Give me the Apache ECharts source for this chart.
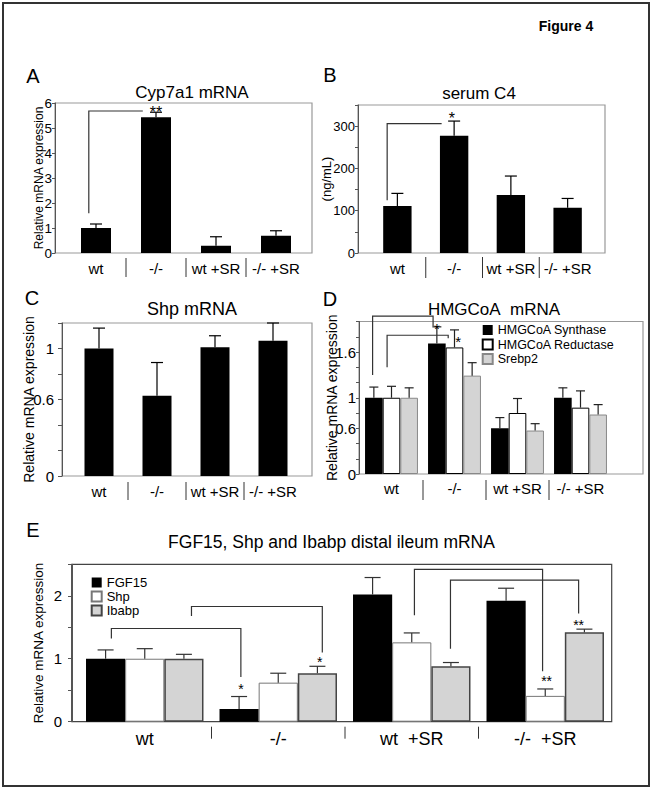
<!DOCTYPE html>
<html><head><meta charset="utf-8">
<script src="https://cdn.jsdelivr.net/npm/echarts@6/dist/echarts.min.js"></script>
<style>html,body{margin:0;padding:0;background:#fff}#c{width:656px;height:790px}</style>
</head><body><div id="c"></div>
<script>
const FONT = "'Liberation Sans', Arial, Helvetica, sans-serif";

// ---------- categories ----------
const groups = ['wt', '-/-', 'wt +SR', '-/- +SR'];
const groupsE = ['wt', '-/-', 'wt\u00a0 +SR', '-/-\u00a0 +SR'];

// ---------- A: Cyp7a1 mRNA ----------
const cyp7a1 = [1.0, 5.43, 0.29, 0.69];
const cyp7a1Err = [0.16, 0.20, 0.36, 0.20];
const cypTickLabels = [0, 1, 2, 3, 4, 5, 6];

// ---------- B: serum C4 (ng/mL) ----------
const serumC4 = [111, 277, 137, 107];
const serumC4Err = [30, 35, 45, 22];
const c4TickLabels = [0, 100, 200, 300];

// ---------- C: Shp mRNA (liver) ----------
const shpLiver = [1.0, 0.63, 1.01, 1.06];
const shpLiverErr = [0.16, 0.26, 0.09, 0.14];
const shpTickLabels = [0, 0.6, 1];

// ---------- D: HMGCoA mRNA ----------
const hmgNames = ['HMGCoA Synthase', 'HMGCoA Reductase', 'Srebp2'];
const hmgSynthase = [1.0, 1.71, 0.60, 1.00];
const hmgSynthaseErr = [0.14, 0.22, 0.14, 0.13];
const hmgReductase = [1.0, 1.66, 0.80, 0.87];
const hmgReductaseErr = [0.15, 0.23, 0.19, 0.22];
const srebp2 = [1.0, 1.29, 0.57, 0.78];
const srebp2Err = [0.13, 0.17, 0.09, 0.13];
const hmgTickLabels = [0, 0.6, 1, 1.6];

// ---------- E: distal ileum ----------
const ileumNames = ['FGF15', 'Shp', 'Ibabp'];
const fgf15 = [1.0, 0.20, 2.02, 1.92];
const fgf15Err = [0.14, 0.20, 0.27, 0.20];
const shpIleum = [1.0, 0.62, 1.26, 0.41];
const shpIleumErr = [0.16, 0.15, 0.15, 0.11];
const ibabp = [1.0, 0.77, 0.88, 1.42];
const ibabpErr = [0.07, 0.11, 0.06, 0.05];
const ileumTickLabels = [0, 1, 2];

// ---------- significance brackets (category units, data values) ----------
// [fromPos, toPos, leftFoot, rightFoot (null = none), top]
const bracketsA = [[-0.12, 0.78, 1.59, null, 5.68]];
const starsA = [[1.0, 5.8, '**']];
const bracketsB = [[-0.18, 0.78, 125, null, 306]];
const starsB = [[0.96, 330, '*']];
const bracketsD = [[-0.30, 0.66, 1.30, 1.94, 2.07], [-0.07, 0.90, 1.40, 1.78, 1.82]];
const starsD = [[0.72, 1.97, '*'], [1.06, 1.80, '*']];
const bracketsE = [[-0.25, 0.72, 1.32, 0.71, 1.48], [0.35, 1.33, 1.68, 1.10, 1.83],
                   [2.02, 2.98, 1.69, 0.80, 2.42], [2.29, 3.25, 1.16, 1.72, 2.25]];
const starsE = [[0.72, 0.58, '*'], [1.31, 1.01, '*'], [3.01, 0.71, '**'], [3.25, 1.61, '**']];

// ---------- helpers ----------
function only(list) {
  return v => list.some(t => Math.abs(t - v) < 1e-6) ? String(Math.round(v * 100) / 100) : '';
}
function posPx(api, pos) {
  const band = api.size([1, 0])[0];
  const idx = Math.max(0, Math.round(pos));
  return api.coord([idx, 0])[0] + (pos - idx) * band;
}
function xAx(gi, data, fs, margin) {
  return {type: 'category', gridIndex: gi, data: data,
    axisLine: {show: false}, axisTick: {show: false}, splitLine: {show: false},
    axisLabel: {interval: 0, color: '#000', fontSize: fs, margin: margin, fontFamily: FONT}};
}
function yAx(gi, o) {
  return {type: 'value', gridIndex: gi, position: 'left', min: 0, max: o.max, interval: o.interval,
    offset: o.offset, name: o.name, nameLocation: 'middle', nameGap: o.nameGap, nameMoveOverlap: false,
    nameTextStyle: {color: '#000', fontSize: o.nameSize, fontFamily: FONT},
    splitLine: {show: false},
    axisLine: {show: true, lineStyle: {color: '#555', width: 1}},
    axisTick: {show: true, length: o.tick, lineStyle: {color: '#555'}},
    axisLabel: {color: '#000', fontSize: o.labelSize, margin: o.margin, fontFamily: FONT,
      formatter: only(o.labels), showMaxLabel: true}};
}
function barSeries(gi, name, data, color, border, bw, gap) {
  return {type: 'bar', name: name, xAxisIndex: gi, yAxisIndex: gi, data: data, silent: true,
    barGap: '0%', barCategoryGap: gap,
    itemStyle: {color: color, borderColor: border, borderWidth: bw}};
}
function errorSeries(gi, vals, errs, sIdx, nS, gap, capW, color) {
  return {type: 'custom', xAxisIndex: gi, yAxisIndex: gi, silent: true, clip: false, z: 3,
    data: vals.map((v, i) => [i, v, v + errs[i]]),
    renderItem(params, api) {
      const band = api.size([1, 0])[0];
      const barW = band * (1 - gap) / nS;
      const off = -band * (1 - gap) / 2 + barW * (sIdx + 0.5);
      const p0 = api.coord([api.value(0), api.value(1)]);
      const p1 = api.coord([api.value(0), api.value(2)]);
      const x = p0[0] + off;
      const st = {stroke: color, lineWidth: 1.2, fill: null};
      return {type: 'group', children: [
        {type: 'line', shape: {x1: x, y1: p0[1], x2: x, y2: p1[1]}, style: st},
        {type: 'line', shape: {x1: x - capW / 2, y1: p1[1], x2: x + capW / 2, y2: p1[1]}, style: st}
      ]};
    }};
}
function separatorSeries(gi, cats, gapPx, len) {
  return {type: 'custom', xAxisIndex: gi, yAxisIndex: gi, silent: true, clip: false, z: 3,
    data: cats.slice(1).map((c, i) => [i + 1, 0]),
    renderItem(params, api) {
      const band = api.size([1, 0])[0];
      const p = api.coord([api.value(0), 0]);
      const x = p[0] - band / 2;
      return {type: 'line', shape: {x1: x, y1: p[1] + gapPx, x2: x, y2: p[1] + gapPx + len},
        style: {stroke: '#333', lineWidth: 1}};
    }};
}
function bracketSeries(gi, brackets) {
  return {type: 'custom', xAxisIndex: gi, yAxisIndex: gi, silent: true, clip: false, z: 4,
    data: brackets.map((b, i) => [Math.max(0, Math.round(b[0])), b[4]]),
    renderItem(params, api) {
      const b = brackets[params.dataIndex];
      const xL = posPx(api, b[0]), xR = posPx(api, b[1]);
      const yT = api.coord([0, b[4]])[1];
      const pts = [[xL, api.coord([0, b[2]])[1]], [xL, yT], [xR, yT]];
      if (b[3] !== null) pts.push([xR, api.coord([0, b[3]])[1]]);
      return {type: 'polyline', shape: {points: pts}, style: {stroke: '#333', lineWidth: 1.2, fill: null}};
    }};
}
function starSeries(gi, stars, fs) {
  return {type: 'custom', xAxisIndex: gi, yAxisIndex: gi, silent: true, clip: false, z: 5,
    data: stars.map(s => [Math.max(0, Math.round(s[0])), s[1]]),
    renderItem(params, api) {
      const s = stars[params.dataIndex];
      const x = posPx(api, s[0]);
      const y = api.coord([0, s[1]])[1] + fs * 0.3;
      return {type: 'text', style: {text: s[2], x: x, y: y, fill: '#000',
        font: fs + 'px ' + FONT, fontSize: fs, fontFamily: FONT,
        align: 'center', textAlign: 'center', verticalAlign: 'middle', textVerticalAlign: 'middle'}};
    }};
}
function txt(text, x, y, size, weight) {
  return {type: 'text', x: x, y: y, silent: true, z: 10,
    style: {text: text, fill: '#000', font: (weight || 'normal') + ' ' + size + 'px ' + FONT,
      textAlign: 'center', align: 'center', textVerticalAlign: 'middle', verticalAlign: 'middle'}};
}
function frame(x, y, w, h, color) {
  return {type: 'rect', silent: true, z: 0, shape: {x: x, y: y, width: w, height: h},
    style: {fill: null, stroke: color, lineWidth: 1.2}};
}

const chart = echarts.init(document.getElementById('c'), null, {renderer: 'svg', width: 656, height: 790});

const option = {
  animation: false,
  backgroundColor: '#fff',
  textStyle: {fontFamily: FONT},
  grid: [
    {left: 66, top: 103, width: 240, height: 150},
    {left: 369, top: 105, width: 227, height: 148},
    {left: 70, top: 323, width: 232, height: 153},
    {left: 360, top: 321.5, width: 252, height: 152.5},
    {left: 78, top: 564.3, width: 534, height: 157.4}
  ],
  xAxis: [
    xAx(0, groups, 15, 8),
    xAx(1, groups, 15, 8),
    xAx(2, groups, 15, 8),
    xAx(3, groups, 15, 7),
    xAx(4, groupsE, 18, 8)
  ],
  yAxis: [
    yAx(0, {max: 6, interval: 1, offset: 11, name: 'Relative mRNA expression', nameGap: 10, nameSize: 12, labelSize: 13.5, margin: 3, tick: 3, labels: cypTickLabels}),
    yAx(1, {max: 350, interval: 50, offset: 11, name: '(ng/mL)', nameGap: 25, nameSize: 13, labelSize: 13, margin: 3, tick: 3, labels: c4TickLabels}),
    yAx(2, {max: 1.2, interval: 0.2, offset: 8, name: 'Relative mRNA expression', nameGap: 26, nameSize: 14, labelSize: 15, margin: 8, tick: 4, labels: shpTickLabels}),
    yAx(3, {max: 2, interval: 0.2, offset: 1, name: 'Relative mRNA expression', nameGap: 20, nameSize: 14, labelSize: 15, margin: 3, tick: 3, labels: hmgTickLabels}),
    yAx(4, {max: 2.5, interval: 0.5, offset: 6, name: 'Relative mRNA expression', nameGap: 27, nameSize: 13.5, labelSize: 15, margin: 10, tick: 4, labels: ileumTickLabels})
  ],
  legend: [
    {data: hmgNames, orient: 'vertical', left: 481.7, top: 323.5, padding: 0, itemWidth: 10, itemHeight: 10, itemGap: 1.5,
      icon: 'rect', selectedMode: false, textStyle: {fontSize: 12.5, color: '#000', fontFamily: FONT}},
    {data: ileumNames, orient: 'vertical', left: 90.7, top: 576, padding: 0, itemWidth: 10, itemHeight: 10, itemGap: 1,
      icon: 'rect', selectedMode: false, textStyle: {fontSize: 13, color: '#000', fontFamily: FONT}}
  ],
  graphic: [
    {type: 'rect', silent: true, z: 0, shape: {x: 3, y: 3, width: 646, height: 783}, style: {fill: null, stroke: '#333', lineWidth: 2}},
    frame(55, 103, 257, 150, '#999'),
    frame(358, 105, 247, 148, '#999'),
    frame(62, 323, 250, 153, '#999'),
    frame(359, 321.5, 284, 152.5, '#999'),
    frame(71.7, 564.3, 540, 157.4, '#444'),
    txt('Figure 4', 566, 26, 14, 'bold'),
    txt('A', 33, 76, 20), txt('B', 330, 75, 20), txt('C', 32, 298, 20), txt('D', 330, 299, 20), txt('E', 33, 530, 20),
    txt('Cyp7a1 mRNA', 192, 92, 17),
    txt('serum C4', 479, 93, 17),
    txt('Shp mRNA', 192, 309, 18),
    txt('HMGCoA\u00a0 mRNA', 494, 309, 17),
    txt('FGF15, Shp and Ibabp distal ileum mRNA', 331.5, 542, 17.5)
  ],
  series: [
    // A
    barSeries(0, 'Cyp7a1', cyp7a1, '#000', '#000', 0, '50%'),
    errorSeries(0, cyp7a1, cyp7a1Err, 0, 1, 0.5, 12, '#000'),
    separatorSeries(0, groups, 5, 19),
    bracketSeries(0, bracketsA), starSeries(0, starsA, 16),
    // B
    barSeries(1, 'C4', serumC4, '#000', '#000', 0, '50%'),
    errorSeries(1, serumC4, serumC4Err, 0, 1, 0.5, 12, '#000'),
    separatorSeries(1, groups, 4, 21),
    bracketSeries(1, bracketsB), starSeries(1, starsB, 16),
    // C
    barSeries(2, 'Shp liver', shpLiver, '#000', '#000', 0, '50%'),
    errorSeries(2, shpLiver, shpLiverErr, 0, 1, 0.5, 12, '#000'),
    separatorSeries(2, groups, 6, 18),
    // D
    barSeries(3, hmgNames[0], hmgSynthase, '#000', '#000', 0, '16%'),
    barSeries(3, hmgNames[1], hmgReductase, '#fff', '#000', 1, '16%'),
    barSeries(3, hmgNames[2], srebp2, '#d4d4d4', '#888', 1, '16%'),
    errorSeries(3, hmgSynthase, hmgSynthaseErr, 0, 3, 0.16, 9, '#222'),
    errorSeries(3, hmgReductase, hmgReductaseErr, 1, 3, 0.16, 9, '#222'),
    errorSeries(3, srebp2, srebp2Err, 2, 3, 0.16, 9, '#222'),
    separatorSeries(3, groups, 6, 20),
    bracketSeries(3, bracketsD), starSeries(3, starsD, 15),
    // E
    barSeries(4, ileumNames[0], fgf15, '#000', '#000', 0, '12%'),
    barSeries(4, ileumNames[1], shpIleum, '#fff', '#777', 1, '12%'),
    barSeries(4, ileumNames[2], ibabp, '#d4d4d4', '#444', 1.5, '12%'),
    errorSeries(4, fgf15, fgf15Err, 0, 3, 0.12, 16, '#333'),
    errorSeries(4, shpIleum, shpIleumErr, 1, 3, 0.12, 16, '#333'),
    errorSeries(4, ibabp, ibabpErr, 2, 3, 0.12, 16, '#333'),
    separatorSeries(4, groupsE, 5, 12),
    bracketSeries(4, bracketsE), starSeries(4, starsE, 14)
  ]
};
chart.setOption(option);
</script>
</body></html>
